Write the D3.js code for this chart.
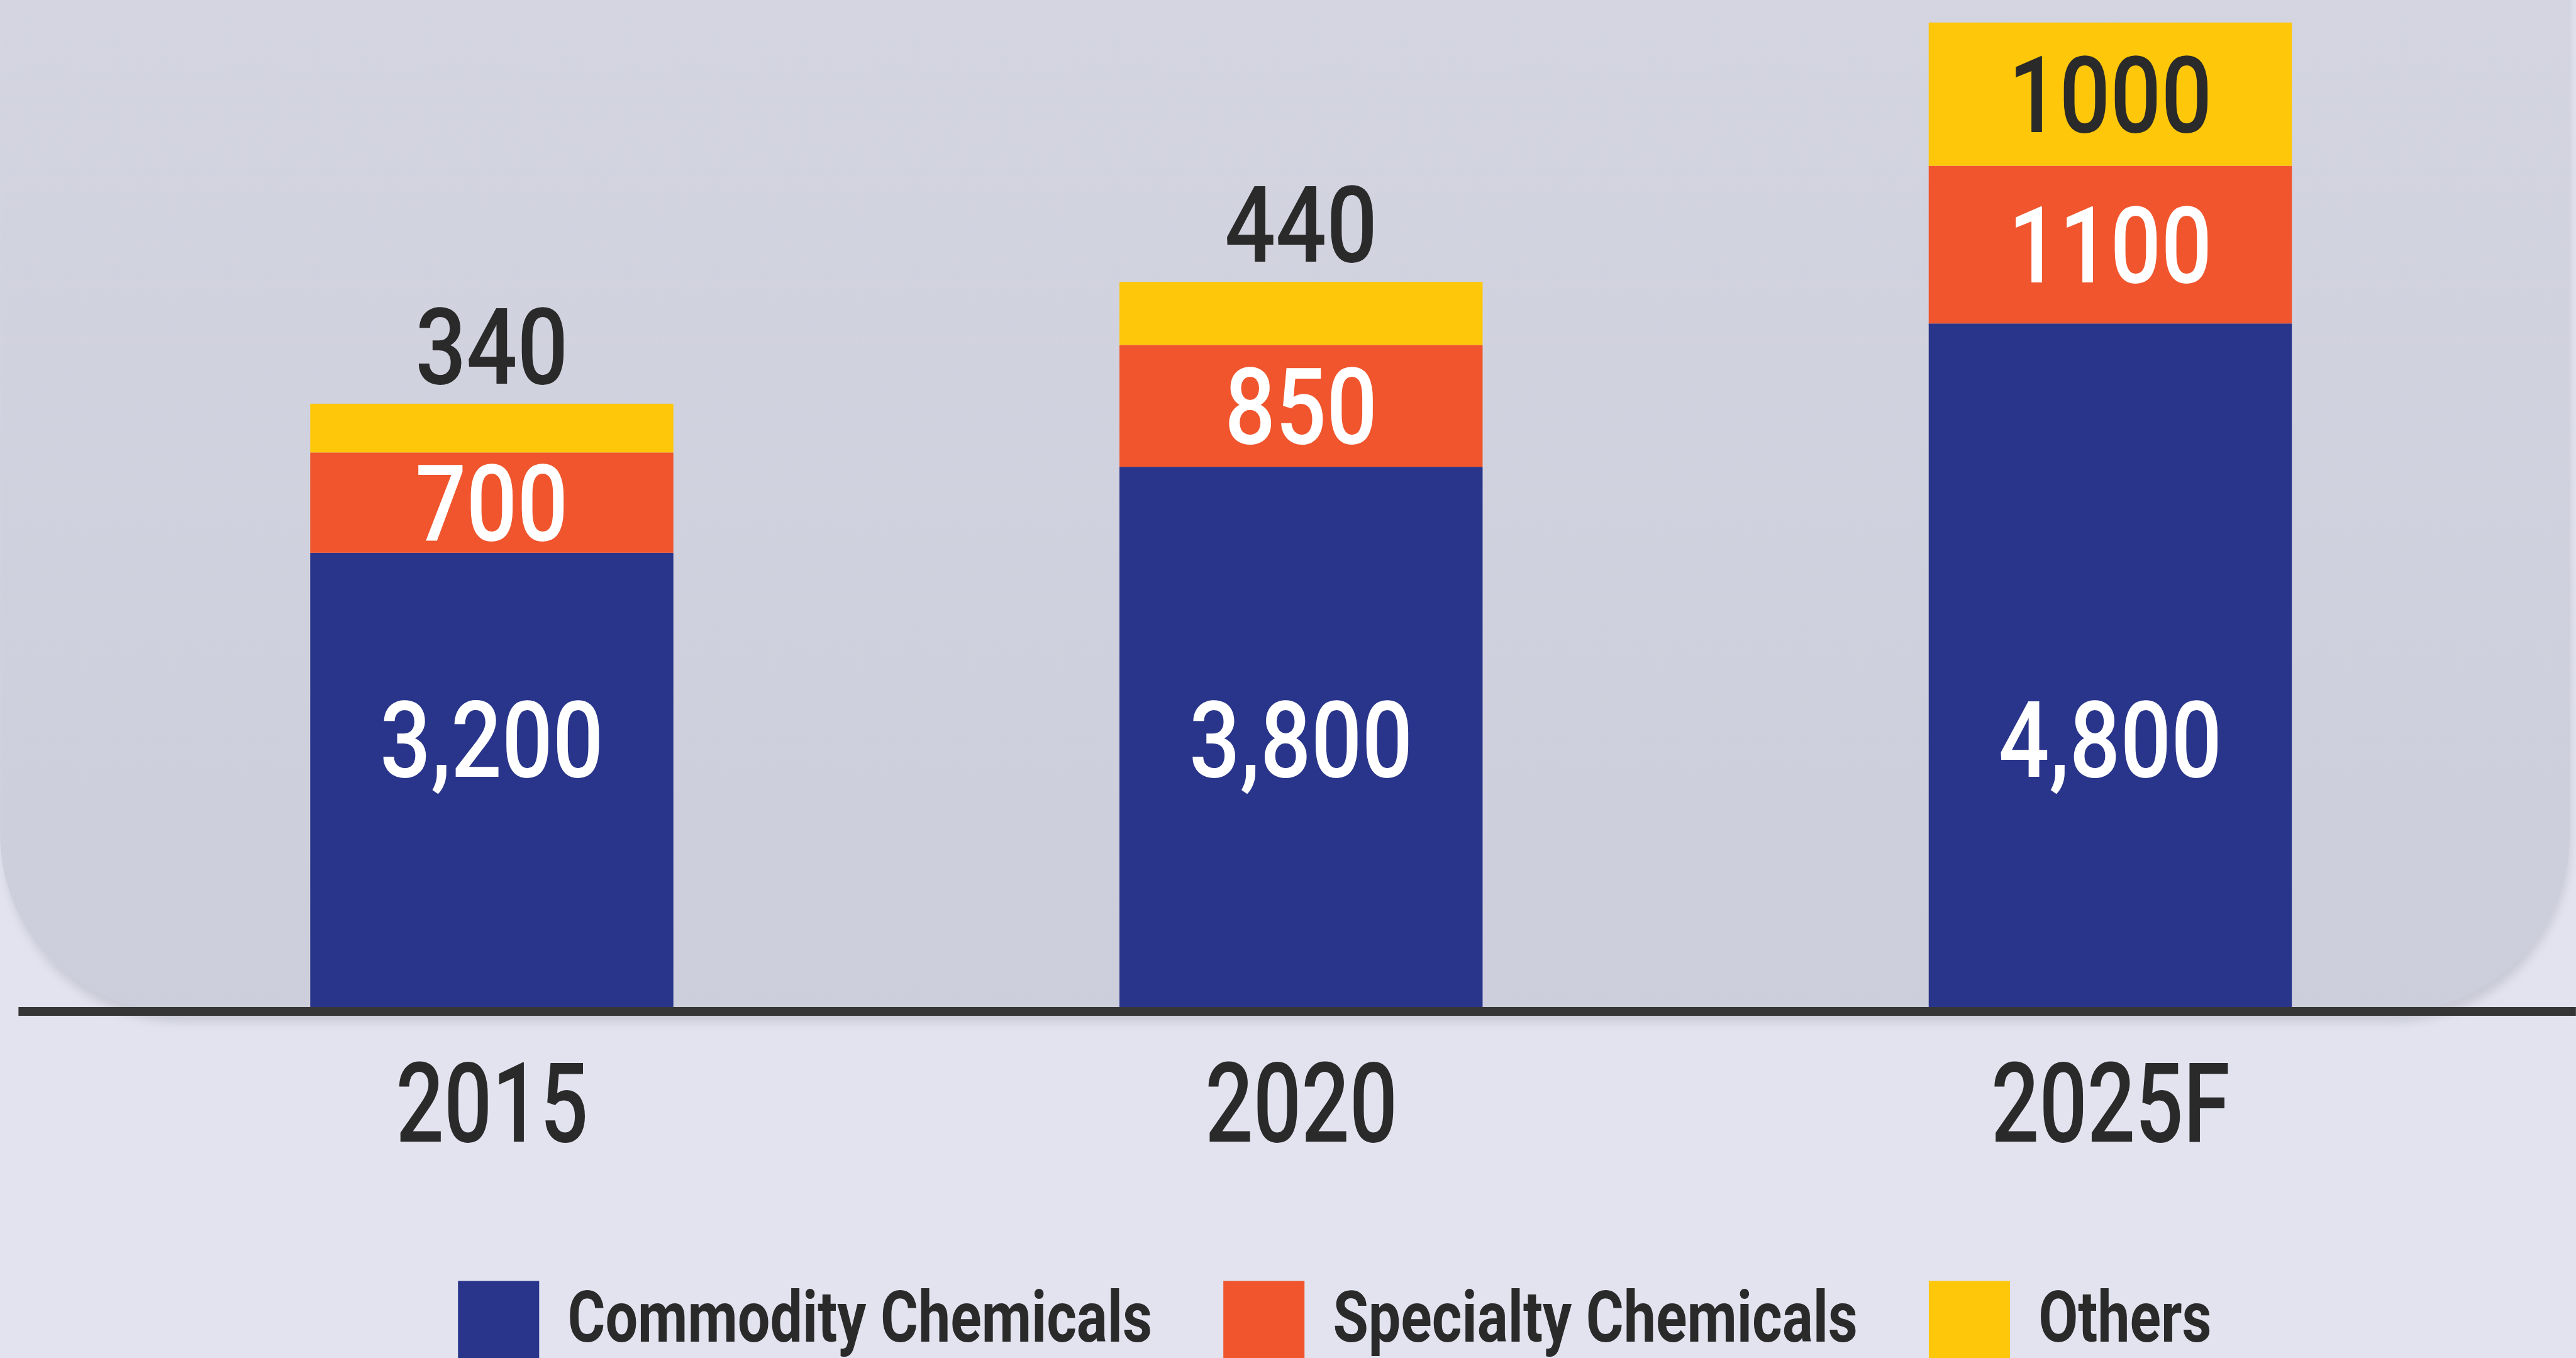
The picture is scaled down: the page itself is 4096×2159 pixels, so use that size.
<!DOCTYPE html>
<html>
<head>
<meta charset="utf-8">
<script src="https://cdn.jsdelivr.net/npm/d3@7"></script>
<style>
    html, body { margin: 0; padding: 0; overflow: hidden; background: #e2e3ef; }
    svg { display: block; }
    .lbl { font-family: Roboto, 'DejaVu Sans Condensed', sans-serif; }
</style>
</head>
<body>
<div id="chart"></div>
<script>
// data
const years = ["2015", "2020", "2025F"];
const seriesNames = ["Commodity Chemicals", "Specialty Chemicals", "Others"];
const commodity = [3200, 3800, 4800];
const specialty = [700, 850, 1100];
const others = [340, 440, 1000];
const colors = ["#29358a", "#f0552d", "#fec70a"];

// reference canvas is 4348 x 2292, drawn into the 4096 x 2159 window via viewBox
const W = 4348, H = 2292;
const baseY = 1707;
// the original face is narrow, so the text is squeezed horizontally
const squeezeVal = 0.84, squeezeYear = 0.76, squeezeLegend = 0.81;

const svg = d3.select("#chart").append("svg")
    .attr("width", 4096)
    .attr("height", 2159)
    .attr("viewBox", "0 0 " + W + " " + H);

const defs = svg.append("defs");
const grad = defs.append("linearGradient")
    .attr("id", "panelGrad")
    .attr("x1", 0).attr("y1", 0).attr("x2", 0).attr("y2", 1);
grad.append("stop").attr("offset", "0%").attr("stop-color", "#d5d6e2");
grad.append("stop").attr("offset", "100%").attr("stop-color", "#cdcedb");

const shadow = defs.append("filter").attr("id", "soft")
    .attr("x", "-5%").attr("y", "-5%").attr("width", "110%").attr("height", "110%");
shadow.append("feGaussianBlur").attr("stdDeviation", 8);

// background
svg.append("rect").attr("width", W).attr("height", H).attr("fill", "#e2e3ef");

// rounded panel behind the bars
svg.append("rect")
    .attr("x", 6).attr("y", -400)
    .attr("width", 4332).attr("height", 2125)
    .attr("rx", 300).attr("ry", 300)
    .attr("fill", "#c9cad6")
    .attr("filter", "url(#soft)");
svg.append("rect")
    .attr("x", 0).attr("y", -400)
    .attr("width", 4338).attr("height", 2108)
    .attr("rx", 300).attr("ry", 300)
    .attr("fill", "url(#panelGrad)");

// build table for the stack
const table = years.map(function (y, i) {
    return { year: y, c: commodity[i], s: specialty[i], o: others[i] };
});
const keys = ["c", "s", "o"];
const formats = [d3.format(","), d3.format("d"), d3.format("d")];

const layers = d3.stack().keys(keys)(table);

const x = d3.scalePoint()
    .domain(years)
    .range([830, 3562]);
const barW = 613;

const totalMax = d3.max(table, function (d) { return d.c + d.s + d.o; });
const y = d3.scaleLinear()
    .domain([0, totalMax])
    .range([baseY, 38]);

// bars
const g = svg.append("g");
layers.forEach(function (layer, li) {
    g.selectAll(".seg" + li)
        .data(layer)
        .enter()
        .append("rect")
        .attr("x", function (d) { return x(d.data.year) - barW / 2; })
        .attr("width", barW)
        .attr("y", function (d) { return y(d[1]); })
        .attr("height", function (d) { return y(d[0]) - y(d[1]); })
        .attr("fill", colors[li]);
});

// value labels
const fs = 180;
layers.forEach(function (layer, li) {
    g.selectAll(".val" + li)
        .data(layer)
        .enter()
        .append("text")
        .attr("class", "lbl")
        .attr("text-anchor", "middle")
        .attr("font-size", fs)
        .attr("font-weight", 500)
        .attr("transform", function (d) {
            const h = y(d[0]) - y(d[1]);
            let ty;
            if (li === 0) {
                // base series labels sit at a common height
                ty = y(1900) + fs * 0.355;
            } else if (li === keys.length - 1 && h < 150) {
                ty = y(d[1]) - 34;
            } else {
                ty = (y(d[0]) + y(d[1])) / 2 + fs * 0.355;
            }
            return "translate(" + x(d.data.year) + "," + ty + ") scale(" + squeezeVal + ",1)";
        })
        .attr("fill", function (d) {
            return li === keys.length - 1 ? "#2a2a2a" : "#ffffff";
        })
        .text(function (d) { return formats[li](d[1] - d[0]); });
});

// baseline
svg.append("line")
    .attr("x1", 31).attr("x2", W)
    .attr("y1", baseY).attr("y2", baseY)
    .attr("stroke", "#363636")
    .attr("stroke-width", 15);

// x axis labels
const xAxis = svg.append("g")
    .attr("transform", "translate(0," + baseY + ")")
    .call(d3.axisBottom(x).tickSize(0).tickPadding(0));
xAxis.select(".domain").remove();
xAxis.attr("font-family", null).attr("font-size", null);
xAxis.selectAll("text")
    .attr("class", "lbl")
    .attr("font-size", 188)
    .attr("font-weight", 500)
    .attr("y", null)
    .attr("dy", null)
    .attr("transform", "translate(0,220) scale(" + squeezeYear + ",1)")
    .attr("fill", "#2a2a2a");

// legend
const legend = svg.append("g");
const items = legend.selectAll("g.item")
    .data(seriesNames)
    .enter()
    .append("g")
    .attr("class", "item");
items.append("rect")
    .attr("width", 137)
    .attr("height", 160)
    .attr("y", 2162)
    .attr("fill", function (d, i) { return colors[i]; });
items.append("text")
    .attr("class", "lbl")
    .attr("transform", "translate(185,2264) scale(" + squeezeLegend + ",1)")
    .attr("font-size", 120)
    .attr("font-weight", "bold")
    .attr("fill", "#2a2a2a")
    .text(function (d) { return d; });

let cursor = 0;
const gap = 120;
items.each(function () {
    const node = d3.select(this);
    node.attr("transform", "translate(" + cursor + ",0)");
    const tw = node.select("text").node().getComputedTextLength() * squeezeLegend;
    cursor += 185 + tw + gap;
});
const legendWidth = cursor - gap;
legend.attr("transform", "translate(" + (2253 - legendWidth / 2) + ",0)");
</script>
</body>
</html>
